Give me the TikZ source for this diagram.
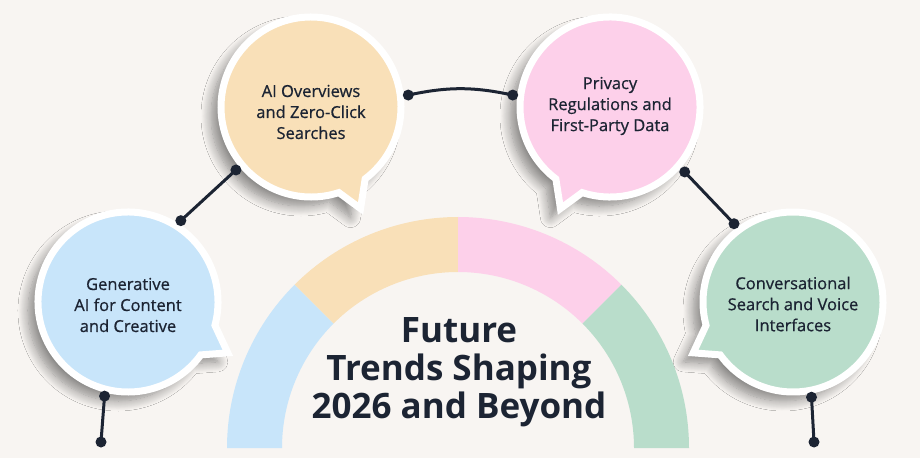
\documentclass[tikz,border=0pt]{standalone}
\usepackage{fontspec}
\setmainfont{Open Sans}
\newfontfamily\bubblefont[FakeBold=0.7]{Open Sans}
\usetikzlibrary{shadows.blur,calc}
\definecolor{bgc}{HTML}{F8F5F2}
\definecolor{cblue}{HTML}{C8E5FA}
\definecolor{corange}{HTML}{F9E0B8}
\definecolor{cpink}{HTML}{FDD0EA}
\definecolor{cgreen}{HTML}{B9DDCB}
\definecolor{ink}{HTML}{1C2433}
\newcommand\bubblepath[6]{%
  \path[fill=#2, draw=white, line width=7pt, line join=miter,
        blur shadow={shadow xshift=-10pt, shadow yshift=-9pt, shadow blur radius=10pt, shadow blur steps=14, shadow opacity=45}]
    (#1.center) ++(#3:90) arc[start angle=#3, end angle=#4, radius=90]
    -- ($(#1.center)+(#5:#6)$) -- cycle;}
\tikzset{
  hub/.style={circle, minimum size=186pt, inner sep=0pt},
  btext/.style={align=center, text=ink, font=\bubblefont\fontsize{16.5}{21}\selectfont},
  link/.style={draw=ink, line width=3pt},
  dotc/.style={fill=ink},
}
\begin{document}
\begin{tikzpicture}[x=1pt,y=1pt]
\fill[bgc] (0,0) rectangle (920,458);
\useasboundingbox (0,0) rectangle (920,458);
% arc
\coordinate (ac) at (458,10);
\fill[cblue]   (ac) ++(180:231) arc[start angle=180,end angle=135,radius=231] -- ($(ac)+(135:176)$) arc[start angle=135,end angle=180,radius=176] -- cycle;
\fill[corange] (ac) ++(135:231) arc[start angle=135,end angle=90,radius=231] -- ($(ac)+(90:176)$) arc[start angle=90,end angle=135,radius=176] -- cycle;
\fill[cpink]   (ac) ++(90:231) arc[start angle=90,end angle=45,radius=231] -- ($(ac)+(45:176)$) arc[start angle=45,end angle=90,radius=176] -- cycle;
\fill[cgreen]  (ac) ++(45:231) arc[start angle=45,end angle=0,radius=231] -- ($(ac)+(0:176)$) arc[start angle=0,end angle=45,radius=176] -- cycle;
% bubble anchors
\node[hub] (blue)   at (128,156) {};
\node[hub] (orange) at (311,351) {};
\node[hub] (pink)   at (610,351) {};
\node[hub] (green)  at (793,156) {};
\bubblepath{blue}{cblue}{-15}{324}{-27}{112}
\bubblepath{orange}{corange}{-53}{288}{-64}{113}
\bubblepath{pink}{cpink}{-108}{233}{-116}{113}
\bubblepath{green}{cgreen}{-144}{195}{-153}{112}
% connectors
\coordinate (b1) at ($(blue.center)+(57:97)$);
\coordinate (o1) at ($(orange.center)+(-140:98)$);
\coordinate (o2) at ($(orange.center)+(7:98)$);
\coordinate (p1) at ($(pink.center)+(173:98)$);
\coordinate (p2) at ($(pink.center)+(-41:99)$);
\coordinate (g1) at ($(green.center)+(127:98)$);
\coordinate (b2) at ($(blue.center)+(-104:97)$);
\coordinate (bend1) at (101,16);
\coordinate (g2) at ($(green.center)+(-79:97)$);
\coordinate (gend) at (814,16);
\draw[link] (b1) -- (o1);
\draw[link] (o2) to[bend left=12] (p1);
\draw[link] (p2) -- (g1);
\draw[link] (b2) -- (bend1);
\draw[link] (g2) -- (gend);
\foreach \p in {b1,o1,o2,p1,p2,g1,b2,bend1,g2,gend}
  \fill[dotc] (\p) circle[radius=5.5];
% texts
\node[btext] (tb) at (128,153) {Generative\\AI for Content\\and Creative};
\node[btext] (to) at (311,346) {AI Overviews\\and Zero-Click\\Searches};
\node[btext] (tp) at (610,352) {Privacy\\Regulations and\\First-Party Data};
\node[btext] (tg) at (793,154) {Conversational\\Search and Voice\\Interfaces};
\node[align=center, text=ink, font=\fontsize{35}{38}\selectfont\bfseries] (title) at (459,86) {Future\\Trends Shaping\\2026 and Beyond};
\end{tikzpicture}
\end{document}
